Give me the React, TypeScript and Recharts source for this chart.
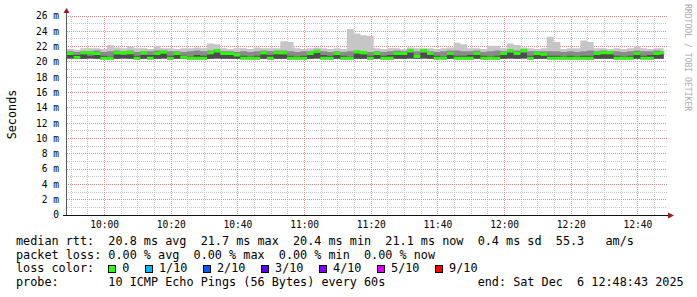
import { ComposedChart, Area, XAxis, YAxis, CartesianGrid } from "recharts";

// graph window starts 09:48:43, one bucket every 2 minutes
const START_CLOCK = [9, 48, 43];
const STEP_MIN = 2;

const MEDIAN = [
  21.1, 20.6, 21.2, 21.2, 21.1, 20.5, 20.5, 21.2, 21.2, 21.2,
  20.5, 21.2, 20.5, 21.1, 21.3, 20.5, 21.1, 20.6, 20.5, 20.5,
  20.5, 21.2, 21.5, 21.1, 21.1, 20.9, 20.5, 20.5, 20.5, 21.2,
  20.5, 21.2, 21.2, 20.5, 20.5, 20.5, 21.1, 21.4, 20.5, 20.5,
  21.1, 20.5, 20.5, 21.3, 21.2, 20.5, 21.1, 20.5, 20.5, 21.1,
  21.1, 21.5, 20.7, 21.5, 21.1, 20.5, 20.5, 21.1, 20.5, 20.5,
  20.5, 21.1, 20.5, 20.5, 20.5, 21.1, 21.5, 21.1, 21.5, 20.5,
  21.1, 21.0, 20.5, 20.5, 20.5, 20.5, 20.5, 20.5, 20.5, 21.1,
  21.2, 21.2, 20.5, 20.5, 20.5, 21.1, 20.5, 20.5, 21.1, 21.2,
];

const LOW = [
  20.45, 20.4, 20.4, 20.45, 20.4, 20.35, 20.35, 20.4, 20.45, 20.4,
  20.35, 20.4, 20.35, 20.4, 20.45, 20.35, 20.4, 20.4, 20.35, 20.35,
  20.35, 20.4, 20.45, 20.4, 20.4, 20.4, 20.35, 20.35, 20.35, 20.4,
  20.35, 20.4, 20.4, 20.35, 20.35, 20.35, 20.4, 20.45, 20.35, 20.35,
  20.4, 20.35, 20.35, 20.4, 20.4, 20.35, 20.4, 20.35, 20.35, 20.4,
  20.4, 20.45, 20.4, 20.45, 20.4, 20.35, 20.35, 20.4, 20.35, 20.35,
  20.35, 20.4, 20.35, 20.35, 20.35, 20.4, 20.45, 20.4, 20.45, 20.35,
  20.4, 20.4, 20.35, 20.35, 20.35, 20.35, 20.35, 20.35, 20.35, 20.4,
  20.4, 20.4, 20.35, 20.35, 20.35, 20.4, 20.35, 20.35, 20.4, 20.4,
];

const DARK_TOP = [
  21.0, 20.9, 21.0, 20.8, 20.9, 20.8, 20.7, 21.0, 20.9, 21.1,
  20.8, 20.9, 20.9, 21.0, 21.1, 20.8, 20.9, 20.8, 20.7, 20.9,
  20.8, 21.0, 21.2, 20.9, 21.0, 20.9, 20.8, 20.7, 20.8, 21.0,
  20.9, 21.1, 21.0, 20.8, 20.7, 20.8, 21.0, 21.2, 20.9, 20.8,
  21.0, 20.8, 20.7, 21.1, 21.0, 20.8, 20.9, 20.8, 20.9, 21.0,
  20.9, 21.2, 20.9, 21.2, 21.0, 20.8, 20.7, 21.0, 20.8, 20.8,
  20.9, 21.0, 20.8, 20.7, 20.8, 21.0, 21.2, 21.0, 21.2, 20.8,
  21.0, 20.9, 20.8, 20.8, 20.7, 20.8, 20.7, 20.8, 20.8, 21.0,
  21.1, 21.1, 20.8, 20.7, 20.8, 21.0, 20.8, 20.9, 21.0, 21.0,
];

const MID_TOP = [
  21.4, 21.3, 21.4, 21.4, 21.5, 21.3, 21.4, 21.5, 21.4, 21.5,
  21.3, 21.4, 21.4, 21.5, 21.5, 21.4, 21.4, 21.3, 21.4, 21.5,
  21.4, 21.5, 21.6, 21.4, 21.4, 21.3, 21.4, 21.3, 21.4, 21.5,
  21.4, 21.5, 21.5, 21.4, 21.3, 21.4, 21.4, 21.6, 21.4, 21.3,
  21.4, 21.3, 21.4, 21.5, 21.4, 21.3, 21.4, 21.3, 21.4, 21.5,
  21.4, 21.6, 21.4, 21.6, 21.4, 21.3, 21.4, 21.5, 21.5, 21.4,
  21.4, 21.5, 21.3, 21.4, 21.5, 21.4, 21.6, 21.5, 21.6, 21.4,
  21.4, 21.4, 21.4, 21.4, 21.3, 21.4, 21.3, 21.4, 21.5, 21.4,
  21.5, 21.4, 21.4, 21.3, 21.4, 21.5, 21.4, 21.4, 21.5, 21.4,
];

const HIGH = [
  21.7, 21.6, 21.8, 21.8, 21.8, 21.7, 22.2, 21.9, 21.8, 22.0,
  21.8, 21.8, 21.7, 22.1, 21.8, 21.8, 21.7, 21.8, 21.8, 21.9,
  21.8, 22.4, 22.3, 21.8, 21.7, 21.8, 21.8, 21.7, 21.9, 21.8,
  21.8, 21.8, 22.7, 22.6, 21.8, 21.7, 21.8, 21.9, 21.8, 21.7,
  21.8, 21.7, 24.3, 23.7, 23.5, 23.4, 21.8, 21.7, 21.8, 21.8,
  21.7, 21.9, 21.8, 21.8, 21.8, 21.7, 21.8, 21.9, 22.5, 22.3,
  21.8, 21.8, 21.7, 22.1, 22.1, 21.8, 22.4, 22.2, 21.9, 21.8,
  21.7, 21.8, 23.3, 22.6, 21.7, 21.8, 21.8, 22.8, 22.6, 21.8,
  21.8, 21.7, 21.8, 21.7, 21.8, 22.0, 21.8, 21.7, 21.8, 21.8,
];

const Y_TICKS = [0, 2, 4, 6, 8, 10, 12, 14, 16, 18, 20, 22, 24, 26];
const X_LABELS = ["10:00", "10:20", "10:40", "11:00", "11:20", "11:40", "12:00", "12:20", "12:40"];

const LOSS_LABELS = ["0", "1/10", "2/10", "3/10", "4/10", "5/10", "9/10"];
const LOSS_COLORS = ["#26ff00", "#00b8ff", "#0059ff", "#5e00ff", "#7e00ff", "#dd00ff", "#ff0000"];

const RTT_STATS = [["20.8", "avg"], ["21.7", "max"], ["20.4", "min"], ["21.1", "now"], ["0.4", "sd"]];
const LOSS_STATS = [["0.00", "avg"], ["0.00", "max"], ["0.00", "min"], ["0.00", "now"]];
const AM_PER_S = "55.3";
const PROBE = "10 ICMP Echo Pings (56 Bytes) every 60s";
const END_TEXT = "Sat Dec  6 12:48:43 2025";

const MONO = "DejaVu Sans Mono";
const MED_HALF = 0.19; // half thickness of the median bar (in ms)

const startMin = START_CLOCK[0] * 60 + START_CLOCK[1] + START_CLOCK[2] / 60;
const clockToT = (label: string) => {
  const [h, m] = label.split(":").map(Number);
  return h * 60 + m - startMin;
};

const X_TICKS = X_LABELS.map(clockToT);
const xLabel = (t: number) => {
  const i = X_TICKS.findIndex(v => Math.abs(v - t) < 0.01);
  return i >= 0 ? X_LABELS[i] : "";
};

// 5 minute grid, every 20 minutes is a major line
const VGRID_MINOR: number[] = [];
const VGRID_MAJOR: number[] = [];
for (let m = 590; m <= 765; m += 5) {
  const t = m - startMin;
  if (m % 20 === 0) VGRID_MAJOR.push(t);
  else VGRID_MINOR.push(t);
}
const HGRID_MINOR = Y_TICKS.slice(0, -1).map(v => v + 1);
const HGRID_MAJOR = Y_TICKS.slice(1);

const data = MEDIAN.map((m, i) => ({
  t: i * STEP_MIN,
  light: [LOW[i], HIGH[i]],
  mid: [LOW[i], MID_TOP[i]],
  dark: [LOW[i], DARK_TOP[i]],
  med: [m - MED_HALF, m + MED_HALF],
}));
// close the last step
data.push({ ...data[data.length - 1], t: MEDIAN.length * STEP_MIN - 1 });

const ARROW = "#9a1b1b";
const MINOR = "#c4c4c4";
const MAJOR = "#dc8c8c";

// dotted grid: a one pixel wide rect filled with a checker pattern,
// so every dot lands on a whole pixel like rrdtool draws it
function GridLine(p: any) {
  const vertical = Math.abs(p.x1 - p.x2) < 0.01;
  const fill = `url(#${p.stroke === MAJOR ? "dotMajor" : "dotMinor"})`;
  if (vertical) {
    const x = Math.floor(p.x1);
    const y = Math.round(Math.min(p.y1, p.y2));
    return <rect key={p.key} x={x} y={y} width={1} height={Math.round(Math.abs(p.y2 - p.y1))} fill={fill} />;
  }
  const y = Math.floor(p.y1);
  const x = Math.round(Math.min(p.x1, p.x2));
  return <rect key={p.key} x={x} y={y} width={Math.round(Math.abs(p.x2 - p.x1))} height={1} fill={fill} />;
}

function YDecor(props: any) {
  const { x, y, width, height } = props.viewBox;
  const ax = x + width - 0.5;
  return (
    <g>
      <line x1={ax} y1={y - 3} x2={ax} y2={y + height} stroke="#5a5a5a" />
      <polygon points={`${ax - 3},${y - 3} ${ax + 3},${y - 3} ${ax},${y - 8}`} fill={ARROW} />
      <text
        transform={`translate(${x + 16},${y + height / 2 - 1}) rotate(-90)`}
        textAnchor="middle" fontFamily={MONO} fontSize={11.8} fill="#000"
      >
        Seconds
      </text>
    </g>
  );
}

function XDecor(props: any) {
  const { x, y, width } = props.viewBox;
  const ay = y + 0.5;
  const r = x + width;
  return (
    <g>
      <line x1={x - 4} y1={ay} x2={r + 3} y2={ay} stroke="#111" />
      <polygon points={`${r + 1},${ay - 3} ${r + 7},${ay} ${r + 1},${ay + 3}`} fill={ARROW} />
    </g>
  );
}

const pad = (s: string, n: number) => s.padEnd(n, " ");

const rttLine = "median rtt:  " + RTT_STATS.map(([v, k]) => `${v} ms ${k}`).join("  ") + `  ${AM_PER_S}   am/s`;
const lossLine = "packet loss: " + LOSS_STATS.map(([v, k]) => `${v} % ${k}`).join("  ");
const probeLine = pad(pad("probe:", 13) + PROBE, 65) + "end: " + END_TEXT;

export default function App() {
  const rowStyle = { height: 13.67, lineHeight: "13.67px" };
  return (
    <div style={{ position: "absolute", left: 0, top: 0, width: 697, height: 297, background: "#fff" }}>
      <ComposedChart width={697} height={232} data={data} margin={{ top: 16, right: 30, left: 0, bottom: 0 }}>
        <defs>
          <pattern id="dotMajor" patternUnits="userSpaceOnUse" width={2} height={2}>
            <rect x={0} y={0} width={1} height={1} fill={MAJOR} />
            <rect x={1} y={1} width={1} height={1} fill={MAJOR} />
          </pattern>
          <pattern id="dotMinor" patternUnits="userSpaceOnUse" width={2} height={2}>
            <rect x={0} y={0} width={1} height={1} fill={MINOR} />
            <rect x={1} y={1} width={1} height={1} fill={MINOR} />
          </pattern>
        </defs>
        <CartesianGrid
          horizontalValues={HGRID_MINOR} verticalValues={VGRID_MINOR} stroke={MINOR}
          horizontal={GridLine} vertical={GridLine}
        />
        <CartesianGrid
          horizontalValues={HGRID_MAJOR} verticalValues={VGRID_MAJOR} stroke={MAJOR}
          horizontal={GridLine} vertical={GridLine}
        />

        <XAxis
          type="number" dataKey="t" domain={[0, 180]} ticks={X_TICKS} interval={0}
          tickFormatter={xLabel} height={17} tickLine={false} axisLine={false} tickMargin={0}
          tick={{ fontSize: 9.6, fontFamily: MONO, fill: "#000" }}
          label={<XDecor />}
        />
        <YAxis
          type="number" domain={[0, 26]} ticks={Y_TICKS} interval={0} width={67}
          tickFormatter={(v: number) => (v === 0 ? "0" : `${v} m`)}
          tickLine={false} axisLine={false}
          tick={{ fontSize: 9.6, fontFamily: MONO, fill: "#000" }}
          label={<YDecor />}
        />

        <Area type="stepAfter" dataKey="light" fill="#c6c6c6" fillOpacity={1} stroke="none"
          isAnimationActive={false} dot={false} activeDot={false} />
        <Area type="stepAfter" dataKey="mid" fill="#8a8a8a" fillOpacity={1} stroke="none"
          isAnimationActive={false} dot={false} activeDot={false} />
        <Area type="stepAfter" dataKey="dark" fill="#4c4c4c" fillOpacity={1} stroke="none"
          isAnimationActive={false} dot={false} activeDot={false} />
        <Area type="stepAfter" dataKey="med" fill={LOSS_COLORS[0]} fillOpacity={1} stroke="none"
          isAnimationActive={false} dot={false} activeDot={false} />
      </ComposedChart>

      <div style={{
        position: "absolute", left: 682.5, top: 4, writingMode: "vertical-rl",
        fontFamily: MONO, fontSize: 8.1, lineHeight: "10px", color: "#ababab", whiteSpace: "pre",
      }}>
        RRDTOOL / TOBI OETIKER
      </div>

      <div style={{
        position: "absolute", left: 16, top: 235, fontFamily: MONO, fontSize: 11.8,
        color: "#000", whiteSpace: "pre",
      }}>
        <div style={rowStyle}>{rttLine}</div>
        <div style={rowStyle}>{lossLine}</div>
        <div style={{ ...rowStyle, display: "flex", alignItems: "center" }}>
          <span style={{ width: 92.3 }}>loss color:</span>
          {LOSS_LABELS.map((l, i) => (
            <span key={l} style={{ display: "flex", alignItems: "center", marginRight: 15.6 }}>
              <span style={{
                width: 8, height: 8, boxSizing: "border-box", border: "1px solid #000",
                background: LOSS_COLORS[i], marginRight: 6,
              }} />
              <span>{l}</span>
            </span>
          ))}
        </div>
        <div style={rowStyle}>{probeLine}</div>
      </div>
    </div>
  );
}
